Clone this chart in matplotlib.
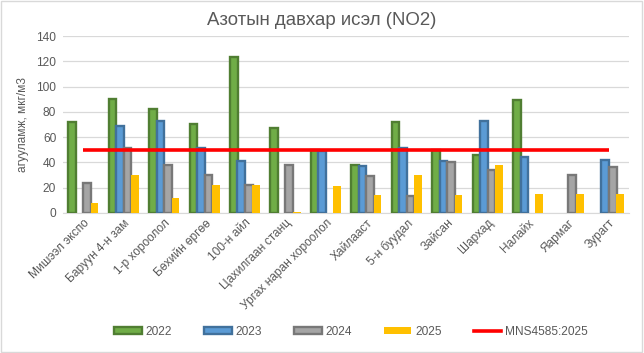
import numpy as np
import matplotlib
matplotlib.use("Agg")
import matplotlib.pyplot as plt
from matplotlib.patches import Patch, Rectangle
from matplotlib.lines import Line2D

plt.rcParams['font.family'] = ['Liberation Sans', 'DejaVu Sans']

categories = ["Мишээл экспо", "Баруун 4-н зам", "1-р хороолол", "Бөхийн өргөө",
              "100-н айл", "Цахилгаан станц", "Ургах наран хороолол", "Хайлааст",
              "5-н буудал", "Зайсан", "Шархад", "Налайх", "Яармаг", "Зурагт"]
nan = np.nan
v2022 = [72, 90, 82, 70, 123, 67, 50, 38, 72, 50, 46, 89, nan, nan]
v2023 = [nan, 69, 73, 51, 41, nan, 49, 37, 51, 41, 73, 44, nan, 42]
v2024 = [24, 51, 38, 30, 22, 38, nan, 29, 13, 40, 34, nan, 30, 36]
v2025 = [8, 30, 12, 22, 22, 1, 21, 14, 30, 14, 38, 15, 15, 15]
standard = [50] * len(categories)
series_names = ["2022", "2023", "2024", "2025"]
line_name = "MNS4585:2025"

fills = ["#70AD47", "#5B9BD5", "#A5A5A5", "#FFC000"]
edges = ["#507E32", "#41719C", "#787878", "#FFC000"]

fs = 8.6
fig = plt.figure(figsize=(6.44, 3.53), dpi=100)
ax = fig.add_axes([0.098, 0.397, 0.879, 0.501])

x = np.arange(len(categories))
step = 0.185
w = 0.19
for i, (vals, fc, ec) in enumerate(zip([v2022, v2023, v2024, v2025], fills, edges)):
    lw = 0 if i == 3 else 1.7
    ax.bar(x + (i - 1.5) * step, vals, width=w, color=fc, edgecolor=ec, linewidth=lw, zorder=3)

ax.plot(x, standard, color="#FF0000", linewidth=2.6, zorder=4, solid_capstyle='butt')

ax.set_xlim(-0.5, len(categories) - 0.5)
ax.set_ylim(0, 140)
ax.set_yticks(np.arange(0, 141, 20))
ax.grid(axis='y', color="#D9D9D9", linewidth=0.9, zorder=0)
ax.set_axisbelow(True)
for s in ['top', 'right', 'left']:
    ax.spines[s].set_visible(False)
ax.spines['bottom'].set_color("#D9D9D9")
ax.tick_params(axis='both', length=0, colors="#595959", labelsize=fs)
ax.tick_params(axis='y', pad=5)
ax.set_xticks(x)
ax.set_xticklabels(categories, rotation=45, ha='right', rotation_mode='anchor')
ax.tick_params(axis='x', pad=3)
ax.set_ylabel("агууламж, мкг/м3", color="#595959", fontsize=fs, labelpad=5)

fig.text(0.5, 0.943, "Азотын давхар исэл (NO2)", ha='center', va='center',
         fontsize=13.4, color="#595959")

handles = [Patch(facecolor=fc, edgecolor=ec, linewidth=1.7 if i < 3 else 0)
           for i, (fc, ec) in enumerate(zip(fills, edges))]
handles.append(Line2D([0], [0], color="#FF0000", linewidth=2.6))
leg = fig.legend(handles, series_names + [line_name], loc='center', ncol=5,
                 bbox_to_anchor=(0.545, 0.06), frameon=False, fontsize=fs,
                 handlelength=2.3, handleheight=0.5, columnspacing=2.7,
                 handletextpad=0.3)
for t in leg.get_texts():
    t.set_color("#595959")

fig.patches.append(Rectangle((0.002, 0.003), 0.995, 0.994, transform=fig.transFigure,
                             fill=False, edgecolor="#D9D9D9", linewidth=1))

fig.savefig("out.png", dpi=100)
